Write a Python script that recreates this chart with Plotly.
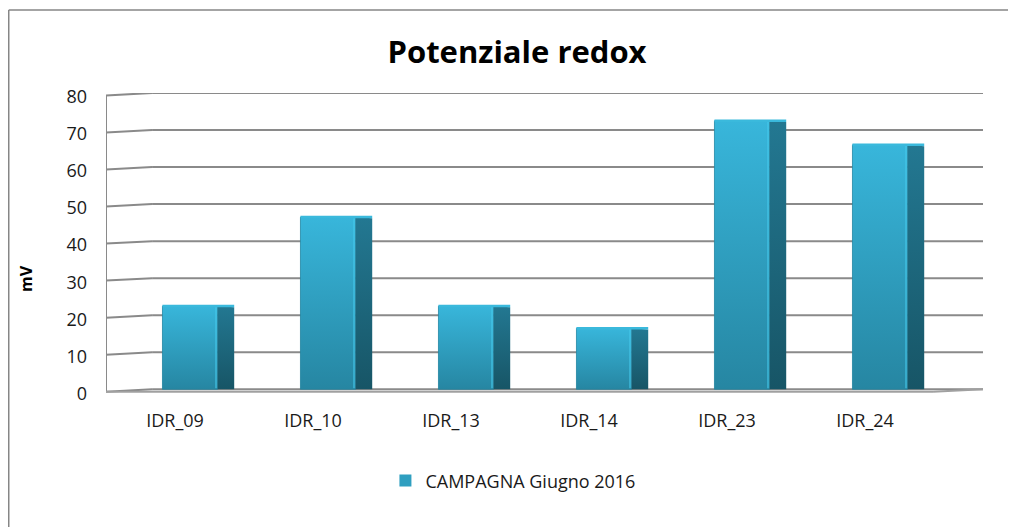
import plotly.graph_objects as go

categories = ["IDR_09", "IDR_10", "IDR_13", "IDR_14", "IDR_23", "IDR_24"]
values = [22.5, 46.5, 22.5, 16.5, 72.5, 66.0]
series_name = "CAMPAGNA Giugno 2016"
y_ticks = [0, 10, 20, 30, 40, 50, 60, 70, 80]

FONT = "Open Sans"
GRID = "#8a8a8a"
BAR_W = 0.40
SIDE_W = 0.12
WALL_X = -0.275     # back wall left edge (x units)
FRONT_X = -0.609    # front edge of left wall
FRONT_DY = -0.65    # front plane offset (y units)
X_MAX = 5.746

xs = list(range(len(categories)))

fig = go.Figure()

# front faces (real bars)
fig.add_trace(go.Bar(
    x=xs, y=values, width=BAR_W, name=series_name,
    marker=dict(color="#2f9fc0", line=dict(width=0)),
    hovertext=categories, showlegend=True,
))

# gradient overlay on front faces and dark side faces, derived from the values
for i, v in zip(xs, values):
    x0, x1 = i - BAR_W / 2, i + BAR_W / 2
    fig.add_trace(go.Scatter(
        x=[x0, x1, x1, x0, x0], y=[0, 0, v, v, 0],
        fill="toself", mode="lines", line=dict(width=0.6, color="#22809b"),
        fillgradient=dict(type="vertical", start=0, stop=v,
                          colorscale=[[0, "#2686a2"], [1, "#38b6db"]]),
        hoverinfo="skip", showlegend=False,
    ))
    # thin highlight at the right edge of the front face
    fig.add_trace(go.Scatter(
        x=[x1 - 0.012, x1 - 0.012], y=[0.3, v - 0.3], mode="lines",
        line=dict(width=2, color="rgba(70,200,235,0.55)"),
        hoverinfo="skip", showlegend=False,
    ))
    sx = x1 + SIDE_W
    fig.add_trace(go.Scatter(
        x=[x1, sx, sx, x1, x1], y=[0, 0, v - 0.35, v, 0],
        fill="toself", mode="lines", line=dict(width=0),
        fillgradient=dict(type="vertical", start=0, stop=v,
                          colorscale=[[0, "#175566"], [1, "#237892"]]),
        hoverinfo="skip", showlegend=False,
    ))
    # top rim
    fig.add_trace(go.Scatter(
        x=[x0, sx], y=[v, v], mode="lines",
        line=dict(width=2.5, color="#3ab9dc"),
        hoverinfo="skip", showlegend=False,
    ))

shapes = []
for t in y_ticks:
    # back wall gridline
    shapes.append(dict(type="line", xref="x", yref="y", x0=WALL_X, x1=X_MAX, y0=t, y1=t,
                       line=dict(color=GRID, width=2), layer="below"))
    # left side wall gridline
    shapes.append(dict(type="line", xref="x", yref="y", x0=FRONT_X, x1=WALL_X,
                       y0=t + FRONT_DY, y1=t, line=dict(color=GRID, width=2), layer="below"))
# left wall front edge (axis line)
shapes.append(dict(type="line", xref="x", yref="y", x0=FRONT_X, x1=FRONT_X,
                   y0=y_ticks[0] + FRONT_DY, y1=y_ticks[-1] + FRONT_DY,
                   line=dict(color=GRID, width=2), layer="below"))
# floor front edge
shapes.append(dict(type="line", xref="x", yref="y", x0=FRONT_X, x1=5.384,
                   y0=FRONT_DY, y1=FRONT_DY, line=dict(color="#a0a0a0", width=2), layer="below"))
shapes.append(dict(type="line", xref="x", yref="y", x0=5.384, x1=X_MAX,
                   y0=FRONT_DY, y1=0, line=dict(color="#a0a0a0", width=2), layer="below"))
# outer chart border (top and left edges visible)
shapes.append(dict(type="line", xref="paper", yref="paper",
                   x0=-0.1109, x1=1.045, y0=1.2767, y1=1.2767,
                   line=dict(color="#868686", width=1.5), layer="below"))
shapes.append(dict(type="line", xref="paper", yref="paper",
                   x0=-0.1109, x1=-0.1109, y0=-0.5, y1=1.2767,
                   line=dict(color="#868686", width=1.5), layer="below"))

fig.update_layout(
    width=1016, height=527,
    margin=dict(l=98, r=41, t=85, b=142),
    paper_bgcolor="white", plot_bgcolor="white",
    font=dict(family=FONT, size=18, color="#1a1a1a"),
    title=dict(text="<b>Potenziale redox</b>", x=0.501, xanchor="center",
               y=0.9165, yanchor="middle", xref="container",
               font=dict(family=FONT, size=31, color="#000000")),
    xaxis=dict(range=[FRONT_X, X_MAX], tickvals=xs, ticktext=categories,
               showgrid=False, zeroline=False, showline=False, ticks="",
               ticklabelshift=-15, ticklabelstandoff=15,
               tickfont=dict(family=FONT, size=18, color="#1a1a1a"), fixedrange=True),
    yaxis=dict(range=[-1, 80], tickvals=y_ticks, showgrid=False, zeroline=False,
               showline=False, ticks="", ticklabelshift=4, ticklabelstandoff=18,
               tickfont=dict(family=FONT, size=18, color="#1a1a1a"), fixedrange=True),
    legend=dict(orientation="h", x=0.464, xanchor="center", y=-0.293, yanchor="middle",
                font=dict(family=FONT, size=18, color="#1a1a1a"),
                bgcolor="rgba(0,0,0,0)"),
    shapes=shapes,
    annotations=[dict(text="<b>mV</b>", xref="paper", yref="paper",
                      x=-0.0912, y=0.38, xanchor="center", yanchor="middle",
                      textangle=-90, showarrow=False,
                      font=dict(family=FONT, size=16, color="#000000"))],
    bargap=0.6,
)

fig.write_html("out.html")
